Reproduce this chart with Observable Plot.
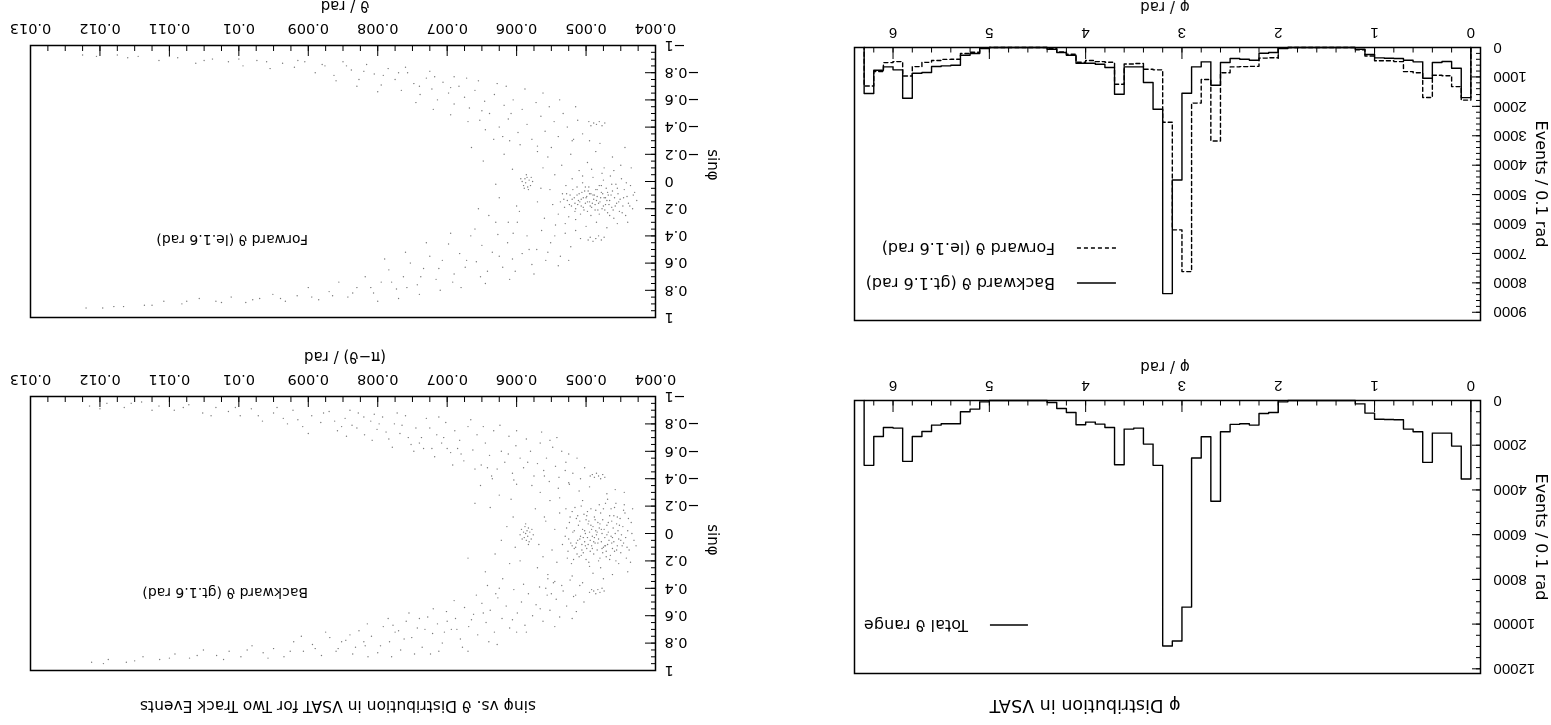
<!DOCTYPE html>
<html><head><meta charset="utf-8">
<script src="https://cdn.jsdelivr.net/npm/d3@7"></script>
<script src="https://cdn.jsdelivr.net/npm/@observablehq/plot@0.6"></script>
<style>
html,body{margin:0;padding:0;background:#fff;overflow:hidden;}
#root{position:relative;width:1551px;height:725px;transform:rotate(180deg);transform-origin:50% 50%;font-family:"DejaVu Sans",sans-serif;color:#000;background:#fff;}
.abs{position:absolute;white-space:nowrap;line-height:1;}
.c{transform:translate(-50%,-50%);}
.l{transform:translate(0,-50%);}
.v{transform:translate(-50%,-50%) rotate(-90deg);}
#root svg{position:absolute;}
</style></head><body><div id="root"></div>
<script>
// ---------------- data ----------------
// phi histogram bins: lower edge of each 0.1 rad bin
const phiBinLow = d3.range(63).map(i => i / 10);
const binWidth = 0.1;
const totalCounts = [3512,2039,1458,1458,2768,1399,1280,863,850,840,565,149,0,0,0,0,0,0,0,60,536,580,1100,1040,1070,1399,4509,1622,2574,9241,10759,10982,2900,1950,1235,1280,2872,1205,1057,967,1086,536,357,90,0,0,0,0,0,0,60,387,506,1040,1040,1100,1384,1607,2723,1235,1205,1607,2900];
const backwardCounts = [1703,704,477,511,1044,488,431,375,363,352,238,57,0,0,0,0,0,0,0,34,170,193,431,397,375,511,1283,488,658,1555,4506,8365,2100,1192,658,658,1589,681,568,533,533,261,170,57,0,0,0,0,0,0,34,204,261,602,624,647,851,874,1725,760,658,772,1566];
const forwardCounts = [1790,1330,960,945,1700,860,820,480,450,450,290,75,0,0,0,0,0,0,0,28,350,360,640,650,660,860,3180,1090,1890,7620,6200,2540,760,740,545,560,1250,500,480,440,500,230,150,33,0,0,0,0,0,0,25,160,205,400,405,440,505,650,970,480,515,815,1310];

const phiMajor = [0,1,2,3,4,5,6];
const phiMinor = d3.range(1, 32).map(i => i * 0.2);
const totalTicks = [0,2000,4000,6000,8000,10000,12000];
const totalMinor = d3.range(1, 25).map(i => i * 500);
const fbTicks = [0,1000,2000,3000,4000,5000,6000,7000,8000,9000];
const fbMinor = d3.range(1, 46).map(i => i * 200);

const thetaMajor = [0.004,0.005,0.006,0.007,0.008,0.009,0.01,0.011,0.012,0.013];
const thetaTickLabels = ["0.004","0.005","0.006","0.007","0.008","0.009","0.01","0.011","0.012","0.013"];
const thetaMinor = d3.range(1, 36).map(i => 0.004 + i * 0.00025);
const sinMajor = [-1,-0.8,-0.6,-0.4,-0.2,0,0.2,0.4,0.6,0.8,1];
const sinTickLabels = ["\u22121","\u22120.8","\u22120.6","\u22120.4","\u22120.2","0","0.2","0.4","0.6","0.8","1"];
const sinMinor = d3.range(1, 40).map(i => -1 + i * 0.05);

// scatter points: [theta (mrad), sin phi]
const backwardPts = [
[4.31,0.05],[4.35,-0.08],[4.38,0.12],[4.40,-0.02],[4.42,0.18],[4.44,-0.15],[4.46,0.07],[4.47,-0.05],[4.49,0.01],[4.50,0.14],[4.51,-0.11],[4.53,0.04],[4.54,-0.02],[4.55,0.09],[4.56,-0.07],[4.57,0.20],[4.58,0.00],[4.59,-0.19],[4.60,0.06],[4.61,-0.04],[4.62,0.11],[4.63,-0.09],[4.64,0.02],[4.65,0.16],[4.66,-0.13],[4.67,0.05],[4.68,-0.01],[4.69,0.08],[4.70,-0.06],[4.71,0.13],[4.72,-0.22],[4.73,0.03],[4.74,-0.03],[4.75,0.10],[4.76,-0.10],[4.77,0.00],[4.78,0.06],[4.79,-0.15],[4.80,0.18],[4.81,-0.04],[4.82,0.04],[4.83,-0.08],[4.84,0.12],[4.85,0.01],[4.86,-0.02],[4.87,0.07],[4.88,-0.12],[4.89,0.15],[4.90,-0.05],[4.91,0.02],[4.92,0.09],[4.93,-0.18],[4.94,0.05],[4.95,-0.01],[4.96,0.21],[4.97,-0.07],[4.98,0.03],[4.99,0.11],[5.00,-0.10],[5.01,0.00],[5.02,0.06],[5.03,-0.14],[5.04,0.14],[5.05,-0.03],[5.06,0.08],[5.07,-0.20],[5.08,0.02],[5.10,0.17],[5.11,-0.06],[5.12,0.05],[5.14,-0.11],[5.15,0.10],[5.17,-0.02],[5.18,0.19],[5.20,-0.16],[5.22,0.07],[5.24,-0.08],[5.26,0.13],[5.28,-0.04],[5.30,0.02],
[4.62,0.03],[4.68,-0.08],[4.73,0.09],[4.78,-0.03],[4.83,0.07],[4.88,0.03],[4.93,-0.06],[4.97,0.08],[5.02,-0.02],[5.06,0.12],[4.55,-0.12],[4.71,0.17],[4.86,-0.17],[4.99,-0.13],[5.09,-0.09],[4.48,0.09],[4.59,0.13],[4.76,0.14],[4.91,0.11],[5.13,0.15],[4.64,-0.18],[4.81,-0.21],[5.16,-0.19],[4.45,-0.21],[4.53,0.22],[4.95,0.24],[5.21,0.22],[4.69,-0.25],[5.05,-0.24],[4.33,-0.18],[4.28,0.09],[4.36,0.21],
[4.34,0.00],[4.39,-0.11],[4.43,0.03],[4.46,-0.17],[4.50,0.05],[4.52,-0.06],[4.56,0.12],[4.60,-0.13],[4.63,0.07],[4.66,0.19],[4.70,0.01],[4.72,0.09],[4.75,-0.18],[4.77,0.11],[4.80,-0.07],[4.82,0.20],[4.84,-0.01],[4.87,-0.10],[4.89,0.06],[4.92,-0.03],[4.94,0.13],[4.96,-0.09],[4.98,-0.16],[5.01,0.09],[5.04,0.03],[5.07,0.16],[5.09,0.04],[5.12,-0.13],[5.14,0.07],[5.17,0.11],[5.19,-0.01],[5.23,-0.12],[5.25,0.04],[5.27,0.18],[5.29,-0.18],[4.41,0.10],[4.57,-0.22],[4.79,0.25],[5.00,0.19],[5.20,0.09],
[5.76,0.01],[5.78,-0.03],[5.79,0.04],[5.81,-0.01],[5.82,0.06],[5.83,-0.04],[5.84,0.02],[5.85,-0.02],[5.86,0.05],[5.87,0.00],[5.88,-0.05],[5.89,0.03],[5.90,-0.01],[5.92,0.04],[5.93,-0.03],[5.95,0.01],[5.83,0.08],[5.87,-0.07],
[4.73,-0.41],[4.76,-0.43],[4.79,-0.40],[4.82,-0.42],[4.85,-0.44],[4.88,-0.41],[4.91,-0.43],[4.94,-0.42],
[4.74,0.42],[4.77,0.40],[4.80,0.43],[4.83,0.41],[4.86,0.44],[4.89,0.42],[4.92,0.41],[4.95,0.43],
[5.34,0.08],[5.38,-0.15],[5.42,0.21],[5.45,-0.03],[5.49,0.12],[5.52,-0.24],[5.55,0.30],[5.58,-0.09],[5.62,0.17],[5.66,-0.30],[5.70,0.25],[5.73,-0.18],[6.02,0.10],[6.05,-0.12],[6.10,0.22],[6.14,-0.05],[6.20,0.33],[6.25,-0.28],[6.31,0.15],[6.38,-0.19],[6.45,0.28],[6.52,-0.35],
[5.45,0.35],[5.60,-0.12],[5.68,0.08],[5.95,0.20],[6.08,-0.25],[6.22,0.05],[6.35,-0.40],[6.42,0.38],[6.60,-0.22],[6.70,0.18],[5.38,-0.26],[5.58,0.40],[6.00,-0.36],[6.30,0.44],
[4.62,0.30],[4.75,0.33],[4.90,0.29],[5.05,0.36],[5.20,0.31],[5.35,0.38],[4.58,-0.32],[4.70,-0.29],[4.95,-0.34],[5.10,-0.31],[5.25,-0.37],[5.40,-0.33],[4.40,0.28],[4.45,-0.30],[5.15,0.45],[5.30,-0.46],[5.50,0.44],[5.60,-0.42],
[5.02,-0.48],[5.08,-0.40],[5.13,-0.55],[5.19,-0.44],[5.24,-0.36],[5.29,-0.52],[5.35,-0.60],[5.39,-0.41],[5.44,-0.49],[5.48,-0.63],[5.53,-0.38],[5.57,-0.55],[5.61,-0.46],[5.66,-0.66],[5.70,-0.51],[5.75,-0.42],[5.80,-0.60],[5.86,-0.69],[5.90,-0.48],[5.95,-0.55],[6.01,-0.64],[6.06,-0.44],[6.11,-0.71],[6.17,-0.52],[6.22,-0.60],[6.28,-0.47],[6.33,-0.75],[6.39,-0.57],[6.45,-0.66],[6.51,-0.50],[6.57,-0.72],[6.63,-0.61],[6.70,-0.78],[6.76,-0.53],[6.82,-0.68],[6.89,-0.75],[6.95,-0.59],[7.02,-0.81],[7.08,-0.66],[7.15,-0.72],[7.22,-0.62],[7.30,-0.84],[7.37,-0.70],[7.45,-0.77],[7.52,-0.65],[7.60,-0.86],[7.68,-0.73],[7.76,-0.80],[7.84,-0.69],[7.93,-0.85],[8.01,-0.76],[8.10,-0.82],[8.19,-0.72],[8.28,-0.88],[8.37,-0.79],[8.47,-0.84],[8.58,-0.75],[8.70,-0.89],[8.82,-0.81],[8.95,-0.86],[9.08,-0.78],[9.22,-0.90],[9.36,-0.84],[9.50,-0.88],[9.66,-0.82],[9.82,-0.91],[9.98,-0.86],[10.15,-0.89],[10.33,-0.92],[10.52,-0.88],[10.72,-0.94],[10.93,-0.90],[11.15,-0.93],[11.40,-0.96],[11.65,-0.92],[11.90,-0.95],[12.15,-0.93],
[5.52,-0.68],[5.78,-0.35],[6.04,-0.39],[6.36,-0.42],[6.60,-0.47],[6.92,-0.50],[7.18,-0.56],[7.48,-0.60],[7.79,-0.63],[8.08,-0.68],[6.12,-0.58],[6.48,-0.78],[6.85,-0.62],[7.25,-0.77],[7.65,-0.79],[8.05,-0.87],[8.45,-0.71],[7.05,-0.70],[7.40,-0.66],[7.88,-0.74],[8.30,-0.77],[8.62,-0.82],[9.00,-0.73],[9.30,-0.80],
[5.25,-0.58],[5.42,-0.70],[5.64,-0.74],[5.84,-0.52],[6.00,-0.75],[6.24,-0.79],[6.42,-0.48],[6.66,-0.83],[6.80,-0.58],[7.00,-0.62],[7.12,-0.85],[7.34,-0.62],[7.56,-0.70],[7.72,-0.88],[7.98,-0.80],[8.20,-0.85],[8.40,-0.90],[8.52,-0.78],[8.78,-0.88],[9.15,-0.83],[9.45,-0.92],[9.72,-0.86],[10.05,-0.92],[10.40,-0.86],[10.80,-0.92],[11.25,-0.90],[11.55,-0.95],[12.00,-0.91],
[5.03,0.50],[5.09,0.38],[5.14,0.57],[5.18,0.46],[5.23,0.34],[5.28,0.53],[5.33,0.42],[5.38,0.61],[5.43,0.48],[5.47,0.36],[5.52,0.56],[5.56,0.45],[5.62,0.64],[5.67,0.39],[5.72,0.52],[5.77,0.60],[5.83,0.44],[5.88,0.67],[5.93,0.50],[5.99,0.58],[6.04,0.41],[6.10,0.69],[6.15,0.53],[6.21,0.62],[6.27,0.47],[6.32,0.72],[6.38,0.56],[6.44,0.65],[6.50,0.51],[6.56,0.74],[6.62,0.59],[6.69,0.68],[6.75,0.54],[6.81,0.77],[6.88,0.62],[6.94,0.70],[7.01,0.57],[7.07,0.80],[7.14,0.66],[7.21,0.73],[7.28,0.61],[7.36,0.83],[7.43,0.69],[7.51,0.76],[7.59,0.64],[7.67,0.85],[7.75,0.72],[7.83,0.79],[7.92,0.68],[8.00,0.87],[8.09,0.75],[8.18,0.82],[8.27,0.71],[8.36,0.88],[8.46,0.78],[8.57,0.84],[8.69,0.76],[8.81,0.89],[8.94,0.81],[9.07,0.86],[9.21,0.79],[9.35,0.90],[9.50,0.84],[9.65,0.87],[9.81,0.82],[9.97,0.90],[10.14,0.86],[10.32,0.89],[10.51,0.85],[10.71,0.91],[10.92,0.88],[11.14,0.92],[11.38,0.90],[11.62,0.94],[11.88,0.92],[12.12,0.94],
[5.55,0.33],[5.90,0.37],[6.25,0.40],[6.58,0.45],[6.90,0.49],[7.20,0.55],[7.55,0.58],[7.85,0.62],[8.15,0.66],[6.00,0.72],[6.40,0.79],[6.78,0.83],[7.12,0.86],[7.47,0.88],[7.80,0.90],[8.40,0.74],[8.75,0.72],[9.10,0.75],[6.65,0.63],[7.00,0.64],[7.32,0.70],[7.70,0.71],[8.20,0.79],[8.60,0.86],
[5.20,0.62],[5.45,0.68],[5.66,0.55],[5.86,0.72],[6.06,0.63],[6.28,0.81],[6.48,0.58],[6.70,0.86],[6.86,0.70],[7.04,0.72],[7.24,0.88],[7.40,0.62],[7.62,0.77],[7.78,0.67],[7.96,0.82],[8.14,0.90],[8.32,0.83],[8.52,0.79],[8.90,0.84],[9.26,0.86],[9.58,0.91],[9.88,0.85],[10.22,0.92],[10.60,0.89],[11.00,0.91],[11.50,0.93],[11.95,0.95]
];

const forwardPts = [
[4.27,0.14],[4.30,0.08],[4.33,0.20],[4.36,0.03],[4.39,0.16],[4.41,0.11],[4.43,0.25],[4.45,0.06],[4.47,0.18],[4.49,-0.02],[4.51,0.13],[4.52,0.22],[4.54,0.09],[4.56,0.16],[4.57,0.02],[4.59,0.12],[4.60,0.27],[4.62,0.07],[4.63,0.19],[4.65,-0.04],[4.66,0.14],[4.68,0.10],[4.69,0.23],[4.71,0.05],[4.72,0.17],[4.74,0.12],[4.75,-0.01],[4.77,0.20],[4.78,0.08],[4.80,0.15],[4.81,0.03],[4.83,0.21],[4.84,0.11],[4.86,0.06],[4.87,0.17],[4.89,0.13],[4.90,-0.03],[4.92,0.19],[4.93,0.09],[4.95,0.15],[4.96,0.04],[4.98,0.22],[4.99,0.11],[5.01,0.16],[5.02,0.07],[5.04,0.19],[5.05,0.01],[5.07,0.13],[5.08,0.24],[5.10,0.09],[5.12,0.17],[5.13,0.04],[5.15,0.20],[5.17,0.12],[5.19,0.06],[5.21,0.18],[5.23,0.10],[5.25,0.26],[5.27,0.14],[5.29,0.03],[5.31,0.19],[5.34,0.09],[5.37,0.15],
[4.58,0.18],[4.64,0.10],[4.70,0.14],[4.76,0.09],[4.82,0.16],[4.88,0.10],[4.94,0.18],[5.00,0.12],[5.06,0.08],[5.11,0.14],[4.73,0.21],[4.85,0.14],[4.97,0.07],[5.03,0.21],[5.16,0.16],[4.67,0.17],[4.79,0.12],[4.91,0.16],
[4.32,0.10],[4.37,0.18],[4.42,0.01],[4.46,0.12],[4.48,0.23],[4.53,0.15],[4.55,0.05],[4.61,0.21],[4.63,0.02],[4.66,0.25],[4.69,0.08],[4.72,0.12],[4.75,0.18],[4.78,0.03],[4.81,0.24],[4.84,0.06],[4.87,0.21],[4.90,0.10],[4.93,0.25],[4.95,0.09],[4.98,0.15],[5.01,0.04],[5.04,0.12],[5.07,0.18],[5.09,0.15],[5.13,0.10],[5.16,0.22],[5.20,0.13],[5.24,0.17],[5.28,0.09],[5.32,0.13],[4.60,-0.08],[4.77,-0.06],[4.92,-0.09],[5.05,-0.04],[5.20,-0.02],
[4.50,-0.12],[4.62,-0.18],[4.74,-0.10],[4.86,-0.22],[4.98,-0.14],[5.10,-0.08],[5.22,-0.20],[5.35,-0.12],[4.55,0.31],[4.70,0.34],[4.85,0.30],[5.00,0.33],[5.15,0.36],[5.30,0.31],[4.44,-0.25],[4.95,-0.30],[4.80,-0.28],[5.18,-0.31],[5.40,0.24],[5.45,-0.05],[5.48,0.17],[5.55,-0.18],[5.60,0.27],[5.65,0.05],[5.70,-0.26],[6.00,0.18],[6.06,-0.09],[6.12,0.30],[6.18,-0.20],[6.25,0.12],[6.33,-0.31],[6.40,0.25],[6.48,-0.15],[4.35,-0.10],[4.40,0.30],
[5.45,0.40],[5.62,-0.10],[5.70,0.15],[5.96,0.22],[6.10,-0.30],[6.30,0.02],[6.55,0.20],[6.65,-0.25],[5.52,0.06],[6.05,0.38],
[5.77,0.00],[5.79,-0.03],[5.80,0.03],[5.82,-0.01],[5.84,0.04],[5.85,-0.03],[5.87,0.01],[5.88,-0.02],[5.90,0.03],[5.92,0.00],[5.94,-0.02],[5.83,0.06],[5.89,0.05],[5.86,-0.05],
[4.73,-0.43],[4.77,-0.41],[4.81,-0.44],[4.85,-0.42],[4.89,-0.43],[4.93,-0.41],[4.96,-0.44],
[4.74,0.41],[4.78,0.43],[4.82,0.40],[4.86,0.42],[4.90,0.44],[4.94,0.41],[4.97,0.43],
[5.05,-0.35],[5.12,-0.45],[5.20,-0.30],[5.27,-0.40],[5.33,-0.50],[5.40,-0.33],[5.46,-0.44],[5.53,-0.55],[5.59,-0.37],[5.65,-0.48],[5.72,-0.58],[5.78,-0.31],[5.85,-0.42],[5.92,-0.53],[5.98,-0.36],[6.05,-0.60],[6.12,-0.46],[6.18,-0.56],[6.25,-0.40],[6.32,-0.64],[6.39,-0.50],[6.46,-0.59],[6.53,-0.45],[6.60,-0.67],[6.68,-0.54],[6.75,-0.62],[6.83,-0.70],[6.90,-0.57],[6.98,-0.65],[7.06,-0.73],[7.14,-0.60],[7.22,-0.68],[7.30,-0.76],[7.39,-0.64],[7.48,-0.72],[7.57,-0.80],[7.66,-0.67],[7.75,-0.75],[7.85,-0.83],[7.95,-0.71],[8.05,-0.79],[8.16,-0.86],[8.27,-0.75],[8.38,-0.82],[8.50,-0.88],[8.63,-0.78],[8.76,-0.85],[8.90,-0.80],[9.05,-0.88],[9.20,-0.84],[9.37,-0.87],[9.55,-0.83],[9.74,-0.89],[9.94,-0.85],[10.15,-0.88],[10.38,-0.90],[10.62,-0.87],[10.88,-0.91],[11.15,-0.89],[11.45,-0.92],[11.75,-0.93],[12.05,-0.92],[12.25,-0.93],
[5.50,-0.25],[5.70,-0.22],[5.95,-0.27],[6.20,-0.33],[6.45,-0.38],[6.70,-0.44],[6.95,-0.49],[7.20,-0.53],[7.45,-0.58],[6.15,-0.70],[6.55,-0.74],[6.90,-0.77],[7.25,-0.81],[7.60,-0.84],[8.00,-0.66],[8.30,-0.70],[8.60,-0.74],
[5.15,-0.55],[5.38,-0.60],[5.62,-0.65],[5.88,-0.68],[6.08,-0.50],[6.28,-0.72],[6.50,-0.52],[6.72,-0.76],[6.95,-0.69],[7.18,-0.77],[7.40,-0.70],[7.70,-0.80],[7.92,-0.78],[8.20,-0.81],[8.45,-0.85],[8.80,-0.86],[9.15,-0.89],[9.60,-0.88],[10.00,-0.90],[10.50,-0.89],[11.00,-0.92],[11.60,-0.91],
[5.08,0.42],[5.15,0.28],[5.22,0.48],[5.30,0.38],[5.37,0.55],[5.44,0.32],[5.51,0.45],[5.58,0.58],[5.64,0.36],[5.71,0.50],[5.78,0.61],[5.85,0.40],[5.92,0.53],[5.99,0.30],[6.06,0.57],[6.13,0.45],[6.20,0.63],[6.27,0.39],[6.35,0.52],[6.42,0.66],[6.50,0.47],[6.58,0.59],[6.66,0.40],[6.74,0.63],[6.82,0.53],[6.90,0.68],[6.98,0.46],[7.07,0.58],[7.16,0.72],[7.25,0.55],[7.34,0.64],[7.43,0.76],[7.53,0.60],[7.63,0.70],[7.73,0.79],[7.84,0.65],[7.95,0.74],[8.06,0.82],[8.18,0.70],[8.30,0.78],[8.43,0.85],[8.56,0.74],[8.70,0.81],[8.85,0.87],[9.00,0.78],[9.16,0.84],[9.33,0.88],[9.51,0.83],[9.70,0.86],[9.90,0.89],[10.11,0.85],[10.33,0.88],[10.57,0.86],[10.82,0.90],[11.08,0.88],[11.36,0.91],[11.66,0.92],[11.96,0.93],[12.20,0.93],
[5.40,0.62],[5.75,0.68],[6.10,0.72],[6.45,0.75],[6.80,0.78],[7.10,0.80],[7.40,0.83],[7.70,0.86],[8.00,0.88],[6.30,0.30],[6.60,0.35],[6.95,0.38],[7.30,0.45],[7.60,0.52],[7.90,0.57],
[5.25,0.58],[5.55,0.52],[5.82,0.50],[6.02,0.66],[6.25,0.55],[6.52,0.70],[6.72,0.58],[6.92,0.74],[7.12,0.64],[7.38,0.70],[7.58,0.78],[7.80,0.74],[8.10,0.78],[8.36,0.82],[8.65,0.84],[8.95,0.85],[9.40,0.86],[9.80,0.87],[10.25,0.89],[10.75,0.88],[11.25,0.91],[11.80,0.92]
];

// ---------------- drawing ----------------
const root = document.getElementById("root");

function stepPoints(values) {
  const pts = [{x: phiBinLow[0], y: 0}];
  values.forEach((v, i) => pts.push({x: phiBinLow[i], y: v}));
  const end = phiBinLow[values.length - 1] + binWidth;
  pts.push({x: end, y: values[values.length - 1]});
  pts.push({x: end, y: 0});
  return pts;
}

function place(el, left, top) { el.style.left = left + "px"; el.style.top = top + "px"; root.appendChild(el); }

function styleText(svg, family, size) {
  d3.select(svg).selectAll("text").style("font-family", family).style("font-size", size + "px");
}

function histPanel({top, height, mt, mb, yMax, yMajor, yMinor, series}) {
  const width = 720, ml = 70, mr = 24;
  const pw = width - ml - mr, ph = height - mt - mb;
  const svg = Plot.plot({
    width, height, marginLeft: ml, marginRight: mr, marginTop: mt, marginBottom: mb,
    x: {domain: [-0.1, 6.4]},
    y: {domain: [0, yMax]},
    style: {overflow: "visible", background: "transparent"},
    marks: [
      ...series.map(s => Plot.line(stepPoints(s.values), {x: "x", y: "y", curve: "step-after", stroke: "#000", strokeWidth: 1.4, strokeDasharray: s.dash || null})),
      Plot.ruleX(phiMinor, {insetTop: ph - 4.5, stroke: "#000", strokeWidth: 1}),
      Plot.ruleX(phiMajor, {insetTop: ph - 11, stroke: "#000", strokeWidth: 1}),
      Plot.ruleY(yMinor, {insetRight: pw - 5, stroke: "#000", strokeWidth: 1}),
      Plot.ruleY(yMajor, {insetRight: pw - 9, stroke: "#000", strokeWidth: 1}),
      Plot.axisX({ticks: phiMajor, tickSize: 0, tickPadding: 9, tickFormat: d => String(d), label: null}),
      Plot.axisY({ticks: yMajor, tickSize: 0, tickPadding: 13, tickFormat: d3.format("d"), label: null}),
      Plot.frame({stroke: "#000", strokeWidth: 1.5})
    ]
  });
  styleText(svg, "'Liberation Sans', Arial, sans-serif", 15);
  place(svg, 0, top);
}

function scatterPanel({top, height, mt, mb, points}) {
  const width = 771, ml = 115, mr = 31;
  const pw = width - ml - mr, ph = height - mt - mb;
  const thetaLabel = new Map(thetaMajor.map((v, i) => [v, thetaTickLabels[i]]));
  const sinLabel = new Map(sinMajor.map((v, i) => [v, sinTickLabels[i]]));
  const svg = Plot.plot({
    width, height, marginLeft: ml, marginRight: mr, marginTop: mt, marginBottom: mb,
    x: {domain: [0.004, 0.013]},
    y: {domain: [-1, 1]},
    style: {overflow: "visible", background: "transparent"},
    marks: [
      Plot.dot(points, {x: d => d[0] / 1000, y: d => d[1], r: 0.7, fill: "#7a7a7a"}),
      Plot.ruleX(thetaMinor, {insetTop: ph - 5, stroke: "#000", strokeWidth: 1}),
      Plot.ruleX(thetaMajor, {insetTop: ph - 10, stroke: "#000", strokeWidth: 1}),
      Plot.ruleY(sinMinor, {insetRight: pw - 5, stroke: "#000", strokeWidth: 1}),
      Plot.ruleY(sinMajor, {insetRight: pw - 11, stroke: "#000", strokeWidth: 1}),
      Plot.axisX({ticks: thetaMajor, tickSize: 0, tickPadding: 11, tickFormat: d => thetaLabel.get(d), label: null}),
      Plot.axisY({ticks: sinMajor, tickSize: 0, tickPadding: 9, tickFormat: d => sinLabel.get(d), label: null}),
      Plot.frame({stroke: "#000", strokeWidth: 1.5})
    ]
  });
  styleText(svg, "'DejaVu Sans', sans-serif", 14.5);
  place(svg, 780, top);
}

histPanel({top: 0, height: 380, mt: 51, mb: 56, yMax: 12210, yMajor: totalTicks, yMinor: totalMinor,
  series: [{values: totalCounts}]});
histPanel({top: 380, height: 345, mt: 24, mb: 48, yMax: 9280, yMajor: fbTicks, yMinor: fbMinor,
  series: [{values: forwardCounts, dash: "4,3"}, {values: backwardCounts}]});
scatterPanel({top: 0, height: 380, mt: 54, mb: 52, points: backwardPts});
scatterPanel({top: 380, height: 345, mt: 27, mb: 46, points: forwardPts});

// ---------------- text ----------------
function addText(txt, x, y, cls, size) {
  const d = document.createElement("div");
  d.className = "abs " + cls;
  d.style.fontSize = size + "px";
  d.textContent = txt;
  place(d, x, y);
}
addText("\u03C6 Distribution in VSAT", 466, 20, "c", 17.5);
addText("sin\u03C6 vs. \u03D1 Distribution in VSAT for Two Track Events", 1213, 20, "c", 15.5);
addText("Events / 0.1 rad", 10, 188, "v", 16);
addText("Events / 0.1 rad", 10, 541, "v", 16);
addText("\u03C6 / rad", 386, 358, "c", 15);
addText("\u03C6 / rad", 386, 718, "c", 15);
addText("(\u03C0\u2212\u03D1) / rad", 1206, 368, "c", 15);
addText("\u03D1 / rad", 1206, 719, "c", 15);
addText("sin\u03C6", 838, 185, "v", 15);
addText("sin\u03C6", 838, 560, "v", 15);
addText("Backward \u03D1 (gt.1.6 rad)", 1243, 132, "l", 14);
addText("Forward \u03D1 (le.1.6 rad)", 1243, 485, "l", 14);
addText("Total \u03D1 range", 583, 100, "l", 16);
addText("Backward \u03D1 (gt.1.6 rad)", 496, 442, "l", 16);
addText("Forward \u03D1 (le.1.6 rad)", 496, 477, "l", 16);

// legend line samples
const ns = "http://www.w3.org/2000/svg";
const leg = document.createElementNS(ns, "svg");
leg.setAttribute("width", 1551); leg.setAttribute("height", 725);
leg.style.left = "0px"; leg.style.top = "0px"; leg.style.pointerEvents = "none";
[[523, 561, 100, null], [435, 474, 442, null], [435, 474, 477, "4,3"]].forEach(([x1, x2, y, dash]) => {
  const l = document.createElementNS(ns, "line");
  l.setAttribute("x1", x1); l.setAttribute("x2", x2); l.setAttribute("y1", y); l.setAttribute("y2", y);
  l.setAttribute("stroke", "#000"); l.setAttribute("stroke-width", 1.5);
  if (dash) l.setAttribute("stroke-dasharray", dash);
  leg.appendChild(l);
});
root.appendChild(leg);
</script></body></html>
